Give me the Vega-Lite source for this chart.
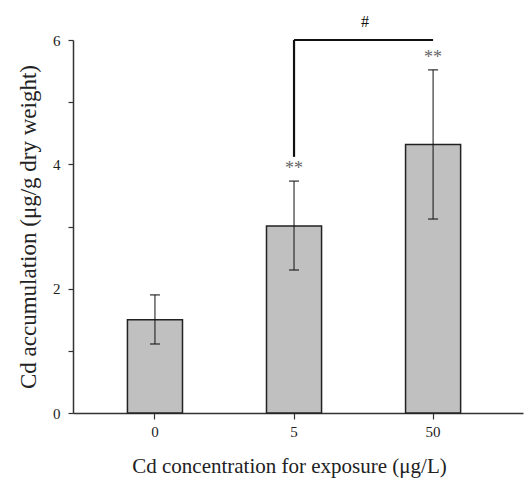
{
  "$schema": "https://vega.github.io/schema/vega-lite/v6.json",
  "width": 450,
  "height": 373,
  "autosize": "none",
  "padding": {"left": 73, "top": 40, "right": 6, "bottom": 67},
  "config": {
    "view": {"stroke": null},
    "font": "Liberation Serif",
    "text": {"font": "Liberation Serif"},
    "axis": {"grid": false, "domainColor": "#333", "tickColor": "#333", "domainWidth": 1.5, "tickWidth": 1.2, "labelFont": "Liberation Serif", "titleFont": "Liberation Serif", "labelColor": "#222", "titleColor": "#222", "titleFontWeight": "normal"}
  },
  "datasets": {
    "bars": [
      {"conc": "0", "mean": 1.5, "lo": 1.11, "hi": 1.9, "sig": ""},
      {"conc": "5", "mean": 3.01, "lo": 2.3, "hi": 3.73, "sig": "**"},
      {"conc": "50", "mean": 4.32, "lo": 3.12, "hi": 5.52, "sig": "**"}
    ],
    "bracket": [
      {"from": "5", "to": "50", "low": 4.12, "top": 6.0, "label": "#"}
    ]
  },
  "encoding": {
    "x": {
      "field": "conc", "type": "nominal", "sort": ["0", "5", "50"],
      "scale": {"domain": ["0", "5", "50"], "paddingInner": 0.604, "paddingOuter": 0.42, "align": 0.466},
      "axis": {"title": "Cd concentration for exposure (μg/L)", "titleFont": "Liberation Serif", "labelFont": "Liberation Serif", "labelAngle": 0, "labelFontSize": 15, "titleFontSize": 21, "tickSize": 6, "labelPadding": 5, "titlePadding": 16, "titleX": 216}
    }
  },
  "layer": [
    {
      "data": {"name": "bars"},
      "mark": {"type": "bar", "fill": "#c0c0c0", "stroke": "#222", "strokeWidth": 1.5},
      "encoding": {
        "y": {
          "field": "mean", "type": "quantitative",
          "scale": {"domain": [0, 6], "nice": false},
          "axis": {"title": "Cd accumulation (μg/g dry weight)", "titleFont": "Liberation Serif", "labelFont": "Liberation Serif", "values": [0, 1, 2, 3, 4, 5, 6], "format": "d", "labelExpr": "datum.value % 2 == 0 ? datum.label : ''", "labelFontSize": 15, "titleFontSize": 23, "tickSize": 5, "labelPadding": 8, "titlePadding": 12}
        }
      }
    },
    {
      "data": {"name": "bars"},
      "mark": {"type": "rule", "color": "#111", "strokeWidth": 1},
      "encoding": {"y": {"field": "lo", "type": "quantitative"}, "y2": {"field": "hi"}}
    },
    {
      "data": {"name": "bars"},
      "mark": {"type": "tick", "color": "#111", "thickness": 1.5, "size": 10},
      "encoding": {"y": {"field": "lo", "type": "quantitative"}}
    },
    {
      "data": {"name": "bars"},
      "mark": {"type": "tick", "color": "#111", "thickness": 1.5, "size": 10},
      "encoding": {"y": {"field": "hi", "type": "quantitative"}}
    },
    {
      "data": {"name": "bars"},
      "mark": {"type": "text", "color": "#666", "fontSize": 18, "dy": -12, "font": "Liberation Serif"},
      "encoding": {"y": {"field": "hi", "type": "quantitative"}, "text": {"field": "sig"}}
    },
    {
      "data": {"name": "bracket"},
      "mark": {"type": "rule", "color": "#111", "strokeWidth": 2.2, "clip": false},
      "encoding": {"x": {"field": "from", "type": "nominal"}, "y": {"field": "low", "type": "quantitative"}, "y2": {"field": "top"}}
    },
    {
      "data": {"name": "bracket"},
      "mark": {"type": "rule", "color": "#111", "strokeWidth": 2.2, "clip": false},
      "encoding": {"x": {"field": "from", "type": "nominal"}, "x2": {"field": "to"}, "y": {"field": "top", "type": "quantitative"}}
    },
    {
      "data": {"name": "bracket"},
      "mark": {"type": "text", "color": "#111", "fontSize": 16, "dx": 71, "dy": -18, "clip": false, "font": "Liberation Serif"},
      "encoding": {"x": {"field": "from", "type": "nominal"}, "y": {"field": "top", "type": "quantitative"}, "text": {"field": "label"}}
    }
  ]
}
